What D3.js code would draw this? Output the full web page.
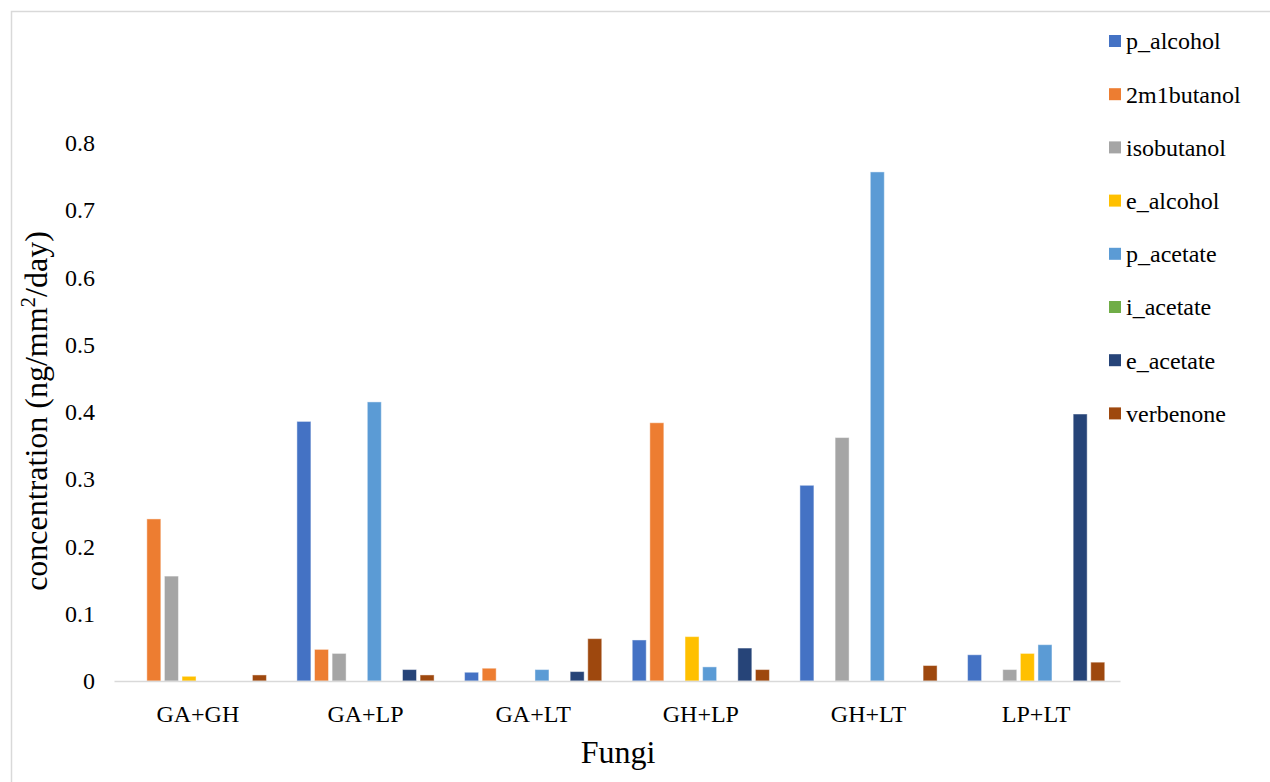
<!DOCTYPE html>
<html>
<head>
<meta charset="utf-8">
<script src="https://cdn.jsdelivr.net/npm/d3@7/dist/d3.min.js"></script>
<style>
  html, body { margin: 0; padding: 0; background: #fff; }
  svg { display: block; font-family: "Liberation Serif", "Times New Roman", serif; }
</style>
</head>
<body>
<svg id="chart" width="1270" height="782"></svg>
<script>
// Fungal pairings on the x axis
const categories = ["GA+GH", "GA+LP", "GA+LT", "GH+LP", "GH+LT", "LP+LT"];

// Volatile compounds, one bar per compound in each pairing
const series = ["p_alcohol", "2m1butanol", "isobutanol", "e_alcohol",
                "p_acetate", "i_acetate", "e_acetate", "verbenone"];

const seriesColors = ["#4472C4", "#ED7D31", "#A5A5A5", "#FFC000",
                      "#5B9BD5", "#70AD47", "#264478", "#9E480E"];

// Emission rates (ng/mm²/day), one array per compound, in category order
const p_alcohol  = [0,     0.386, 0.013, 0.061, 0.291, 0.039];
const m2butanol  = [0.241, 0.047, 0.019, 0.384, 0,     0];
const isobutanol = [0.156, 0.041, 0,     0,     0.362, 0.017];
const e_alcohol  = [0.007, 0,     0,     0.066, 0,     0.041];
const p_acetate  = [0,     0.415, 0.017, 0.021, 0.757, 0.054];
const i_acetate  = [0,     0,     0,     0,     0,     0];
const e_acetate  = [0,     0.017, 0.014, 0.049, 0,     0.397];
const verbenone  = [0.009, 0.009, 0.063, 0.017, 0.023, 0.028];

const yTicks = [0, 0.1, 0.2, 0.3, 0.4, 0.5, 0.6, 0.7, 0.8];
const yTickLabels = ["0", "0.1", "0.2", "0.3", "0.4", "0.5", "0.6", "0.7", "0.8"];

const valuesBySeries = [p_alcohol, m2butanol, isobutanol, e_alcohol,
                        p_acetate, i_acetate, e_acetate, verbenone];

const FONT = "Liberation Serif, Times New Roman, serif";
const svg = d3.select("#chart");

// outer chart frame
svg.append("path")
  .attr("d", "M11.5,782 V11.5 H1270")
  .attr("fill", "none")
  .attr("stroke", "#d9d9d9")
  .attr("stroke-width", 1.5);

const plot = { left: 114, right: 1120, top: 143, bottom: 681 };

const x0 = d3.scaleBand()
  .domain(categories)
  .range([plot.left, plot.right])
  .paddingInner(0)
  .paddingOuter(0);

const x1 = d3.scaleBand()
  .domain(series)
  .range([0, x0.bandwidth()])
  .paddingInner(0.205)
  .paddingOuter(0.866);

const y = d3.scaleLinear()
  .domain([0, 0.8])
  .range([plot.bottom, plot.top]);

const color = d3.scaleOrdinal().domain(series).range(seriesColors);

// bars
const groups = svg.append("g").selectAll("g")
  .data(categories)
  .join("g")
  .attr("transform", d => `translate(${x0(d)},0)`);

groups.selectAll("rect")
  .data((cat, ci) => series.map((s, si) => ({ s, v: valuesBySeries[si][ci] })))
  .join("rect")
  .filter(d => d.v > 0)
  .attr("x", d => x1(d.s))
  .attr("width", x1.bandwidth())
  .attr("y", d => y(d.v))
  .attr("height", d => y(0) - y(d.v))
  .attr("fill", d => color(d.s))
  .attr("stroke", "rgba(255,255,255,0.45)")
  .attr("stroke-width", 1);

// x axis line and category labels
const xAxis = d3.axisBottom(x0).tickSize(0).tickPadding(24);
const xg = svg.append("g")
  .attr("transform", `translate(0,${plot.bottom})`)
  .call(xAxis);
xg.select(".domain").attr("stroke", "#d9d9d9").attr("stroke-width", 1.5);
xg.selectAll("text")
  .attr("font-family", FONT)
  .attr("font-size", 24)
  .attr("fill", "#000");

// y axis labels (no line, no ticks)
const yAxis = d3.axisLeft(y)
  .tickValues(yTicks)
  .tickFormat((d, i) => yTickLabels[i])
  .tickSize(0)
  .tickPadding(0);
const yg = svg.append("g")
  .attr("transform", `translate(${plot.left - 19},0)`)
  .call(yAxis);
yg.select(".domain").remove();
yg.selectAll("text")
  .attr("font-family", FONT)
  .attr("font-size", 24)
  .attr("fill", "#000");

// axis titles
svg.append("text")
  .attr("x", (plot.left + plot.right) / 2 + 1)
  .attr("y", 763)
  .attr("text-anchor", "middle")
  .attr("font-family", FONT)
  .attr("font-size", 32)
  .attr("fill", "#000")
  .text("Fungi");

const yTitle = svg.append("text")
  .attr("transform", "translate(47,411) rotate(-90)")
  .attr("text-anchor", "middle")
  .attr("font-family", FONT)
  .attr("font-size", 32)
  .attr("fill", "#000");
yTitle.append("tspan").text("concentration (ng/mm");
yTitle.append("tspan").attr("font-size", 21).attr("dy", -12).text("2");
yTitle.append("tspan").attr("dy", 12).text("/day)");

// legend
const legend = svg.append("g").selectAll("g")
  .data(series)
  .join("g")
  .attr("transform", (d, i) => `translate(1109,${41 + i * 53.2})`);

legend.append("rect")
  .attr("x", 0)
  .attr("y", -6)
  .attr("width", 12)
  .attr("height", 12)
  .attr("fill", d => color(d));

legend.append("text")
  .attr("x", 17)
  .attr("y", 0)
  .attr("dy", "0.35em")
  .attr("font-family", FONT)
  .attr("font-size", 24)
  .attr("fill", "#000")
  .text(d => d);
</script>
</body>
</html>
